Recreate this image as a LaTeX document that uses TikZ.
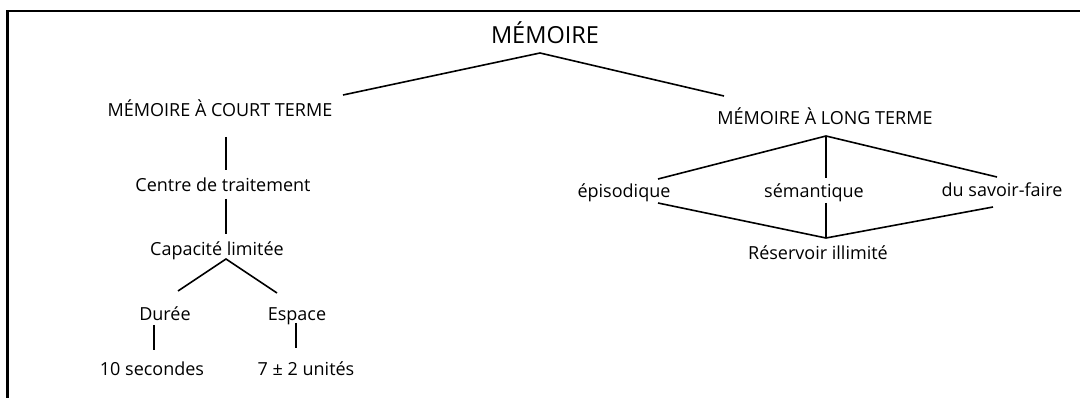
\documentclass[tikz,border=0pt]{standalone}
\usepackage{fontspec}
\setmainfont{Open Sans}
\begin{document}
\begin{tikzpicture}[x=1pt,y=-1pt,
  lbl/.style={inner sep=0pt, anchor=base, font=\fontsize{18}{20}\selectfont},
  ttl/.style={inner sep=0pt, anchor=base, font=\fontsize{23.5}{26}\selectfont},
  conn/.style={line width=1.6pt},
  frameline/.style={line width=2.4pt}]
\useasboundingbox (0,0) rectangle (1080,398);
% frame
\coordinate (fbl) at (7.5,399);
\coordinate (ftl) at (7.5,11);
\coordinate (ftr) at (1081,11);
\draw[frameline] (fbl) -- (ftl) -- (ftr);
% nodes
\node[ttl] (mem) at (545,44) {MÉMOIRE};
\node[lbl] (mct) at (220,117) {MÉMOIRE À COURT TERME};
\node[lbl] (ctr) at (223,192) {Centre de traitement};
\node[lbl] (cap) at (217,256) {Capacité limitée};
\node[lbl] (dur) at (165,320) {Durée};
\node[lbl] (esp) at (297,320) {Espace};
\node[lbl] (sec) at (152,375) {10 secondes};
\node[lbl] (uni) at (306,375) {7 ± 2 unités};
\node[lbl] (mlt) at (825,125) {MÉMOIRE À LONG TERME};
\node[lbl] (epi) at (624,198) {épisodique};
\node[lbl] (sem) at (814,198) {sémantique};
\node[lbl] (sav) at (1002,197) {du savoir-faire};
\node[lbl] (res) at (818,260) {Réservoir illimité};
% connector points
\coordinate (memJ) at (540,53);
\coordinate (mctT) at (343,95);
\coordinate (mltT) at (724,96);
\coordinate (mctB) at (226,137);
\coordinate (ctrT) at (226,170);
\coordinate (ctrB) at (226,199);
\coordinate (capT) at (226,234);
\coordinate (capJ) at (226,259);
\coordinate (durT) at (178,291);
\coordinate (espT) at (277,293);
\coordinate (durB) at (154,325);
\coordinate (secT) at (154,350);
\coordinate (espB) at (296,323);
\coordinate (uniT) at (296,348);
\coordinate (mltJ) at (826,136);
\coordinate (epiT) at (658,179);
\coordinate (semT) at (826,178);
\coordinate (savT) at (997,177);
\coordinate (epiB) at (658,203);
\coordinate (semB) at (826,203);
\coordinate (savB) at (993,207);
\coordinate (resT) at (826,238);
% connectors
\draw[conn] (mctT) -- (memJ) -- (mltT);
\draw[conn] (mctB) -- (ctrT);
\draw[conn] (ctrB) -- (capT);
\draw[conn] (durT) -- (capJ) -- (espT);
\draw[conn] (durB) -- (secT);
\draw[conn] (espB) -- (uniT);
\draw[conn] (epiT) -- (mltJ) -- (savT);
\draw[conn] (mltJ) -- (semT);
\draw[conn] (epiB) -- (resT) -- (savB);
\draw[conn] (semB) -- (resT);
\end{tikzpicture}
\end{document}
